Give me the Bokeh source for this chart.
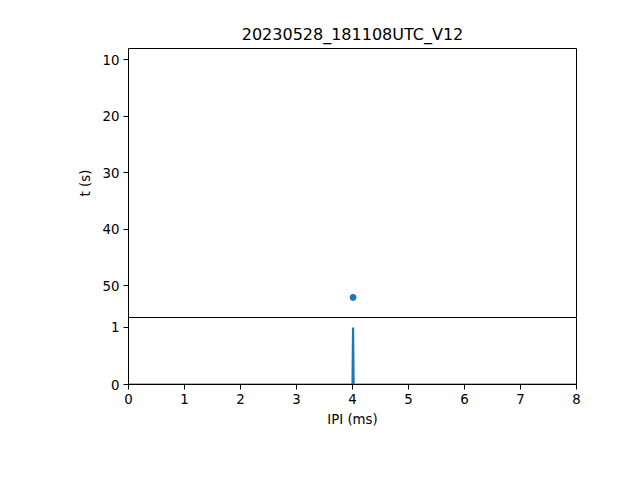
from bokeh.plotting import figure
from bokeh.layouts import column
from bokeh.models import Range1d, FixedTicker, LinearAxis
from bokeh.embed import file_html
from bokeh.resources import INLINE

# Data
title_text = "20230528_181108UTC_V12"
ipi_ms = [4.01]
t_s = [52.1]
hist_x = [0.0, 4.0, 4.01, 4.02, 8.0]
hist_y = [0, 0, 1, 0, 0]
t_ticks = [10, 20, 30, 40, 50]
x_ticks = [0, 1, 2, 3, 4, 5, 6, 7, 8]
count_ticks = [0, 1]

BLUE = "#1f77b4"
FONT = "DejaVu Sans"

xr = Range1d(0, 8)

def style(p):
    p.xgrid.visible = False
    p.ygrid.visible = False
    p.background_fill_color = "white"
    p.border_fill_color = "white"
    for ax in p.xaxis + p.yaxis:
        ax.major_tick_out = 5
        ax.major_tick_in = 0
        ax.minor_tick_out = 0
        ax.minor_tick_in = 0
        ax.major_label_text_font = FONT
        ax.major_label_text_font_size = "10pt"
        ax.major_label_text_color = "black"
        ax.axis_label_text_font = FONT
        ax.axis_label_text_font_size = "10pt"
        ax.axis_label_text_font_style = "normal"
        ax.axis_label_text_color = "black"
        ax.axis_line_color = "black"
        ax.major_tick_line_color = "black"
        ax.major_label_standoff = 4

def bare_axis():
    ax = LinearAxis(ticker=FixedTicker(ticks=[]))
    ax.major_tick_out = 0
    ax.major_tick_in = 0
    ax.minor_tick_out = 0
    ax.minor_tick_in = 0
    ax.major_label_text_font_size = "0pt"
    ax.axis_line_color = "black"
    return ax

p1 = figure(width=624, height=317, x_range=xr, y_range=Range1d(55.66, 8.05),
            output_backend="svg", toolbar_location=None,
            min_border_left=128, min_border_right=48, min_border_top=48,
            min_border_bottom=0)
p1.title.text = title_text
p1.title.align = "center"
p1.title.text_font = FONT
p1.title.text_font_size = "12pt"
p1.title.text_font_style = "normal"
p1.title.text_color = "black"
p1.scatter(ipi_ms, t_s, size=6, color=BLUE)
style(p1)
p1.outline_line_color = None
p1.xaxis.visible = False
p1.yaxis.ticker = FixedTicker(ticks=t_ticks)
p1.yaxis.axis_label = "t (s)"
p1.yaxis.axis_label_standoff = 7
p1.add_layout(bare_axis(), "above")
p1.add_layout(bare_axis(), "right")

p2 = figure(width=624, height=135, x_range=xr, y_range=Range1d(0, 1.175),
            output_backend="svg", toolbar_location=None,
            min_border_left=128, min_border_right=48, min_border_top=0,
            min_border_bottom=68)
p2.line(hist_x, hist_y, line_width=2.2, color=BLUE)
style(p2)
p2.outline_line_color = "black"
p2.outline_line_width = 1
p2.outline_line_alpha = 1
p2.xaxis.ticker = FixedTicker(ticks=x_ticks)
p2.xaxis.axis_label = "IPI (ms)"
p2.xaxis.axis_label_standoff = 5
p2.yaxis.ticker = FixedTicker(ticks=count_ticks)

layout = column(p1, p2, spacing=0)
open("out.html", "w").write(file_html(layout, INLINE))
